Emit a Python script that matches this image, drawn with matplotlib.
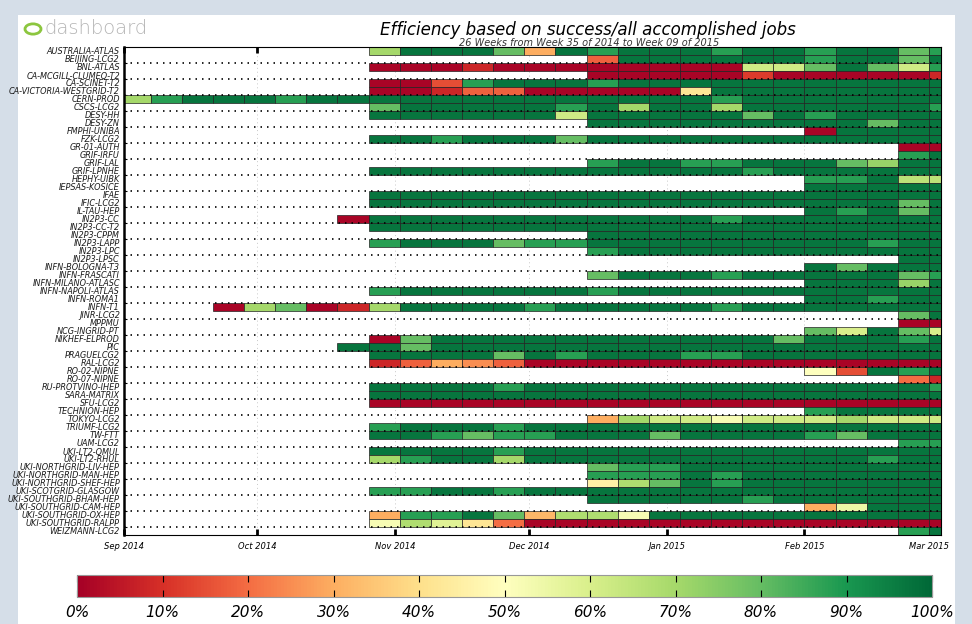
import datetime as dt
import matplotlib
matplotlib.use('Agg')
import matplotlib.pyplot as plt
import matplotlib.dates as mdates
from matplotlib.patches import Rectangle, Circle
from matplotlib import cm, colors

# sites, first week index with data, weekly efficiency (%) from that week on
sites = ['AUSTRALIA-ATLAS', 'BEIJING-LCG2', 'BNL-ATLAS', 'CA-MCGILL-CLUMEQ-T2', 'CA-SCINET-T2',
         'CA-VICTORIA-WESTGRID-T2', 'CERN-PROD', 'CSCS-LCG2', 'DESY-HH', 'DESY-ZN',
         'FMPHI-UNIBA', 'FZK-LCG2', 'GR-01-AUTH', 'GRIF-IRFU', 'GRIF-LAL', 'GRIF-LPNHE',
         'HEPHY-UIBK', 'IEPSAS-KOSICE', 'IFAE', 'IFIC-LCG2', 'IL-TAU-HEP', 'IN2P3-CC',
         'IN2P3-CC-T2', 'IN2P3-CPPM', 'IN2P3-LAPP', 'IN2P3-LPC', 'IN2P3-LPSC',
         'INFN-BOLOGNA-T3', 'INFN-FRASCATI', 'INFN-MILANO-ATLASC', 'INFN-NAPOLI-ATLAS',
         'INFN-ROMA1', 'INFN-T1', 'JINR-LCG2', 'MPPMU', 'NCG-INGRID-PT', 'NIKHEF-ELPROD',
         'PIC', 'PRAGUELCG2', 'RAL-LCG2', 'RO-02-NIPNE', 'RO-07-NIPNE', 'RU-PROTVINO-IHEP',
         'SARA-MATRIX', 'SFU-LCG2', 'TECHNION-HEP', 'TOKYO-LCG2', 'TRIUMF-LCG2', 'TW-FTT',
         'UAM-LCG2', 'UKI-LT2-QMUL', 'UKI-LT2-RHUL', 'UKI-NORTHGRID-LIV-HEP',
         'UKI-NORTHGRID-MAN-HEP', 'UKI-NORTHGRID-SHEF-HEP', 'UKI-SCOTGRID-GLASGOW',
         'UKI-SOUTHGRID-BHAM-HEP', 'UKI-SOUTHGRID-CAM-HEP', 'UKI-SOUTHGRID-OX-HEP',
         'UKI-SOUTHGRID-RALPP', 'WEIZMANN-LCG2']

start_week = [8, 15, 8, 15, 8, 8, 0, 8, 8, 15,
              22, 8, 25, 25, 15, 8, 22, 22, 8, 8,
              22, 7, 8, 15, 8, 15, 25, 22, 15, 22,
              8, 22, 3, 25, 25, 22, 8, 7, 8, 8,
              22, 25, 8, 8, 8, 22, 15, 8, 8, 25,
              8, 8, 15, 15, 15, 8, 15, 22, 8, 8, 25]

efficiency = [
    [70, 97, 97, 97, 80, 30, 97, 88, 97, 97, 97, 88, 97, 97, 88, 97, 97, 80, 88],
    [18, 97, 97, 97, 97, 97, 97, 88, 97, 97, 80, 97],
    [1, 1, 1, 8, 1, 1, 1, 1, 1, 1, 1, 1, 62, 62, 80, 97, 80, 62, 88],
    [1, 1, 1, 1, 1, 12, 1, 1, 1, 1, 1, 8],
    [1, 1, 15, 88, 97, 97, 97, 88, 97, 97, 97, 97, 97, 97, 97, 97, 97, 97, 97],
    [1, 1, 8, 18, 18, 1, 1, 1, 1, 1, 42, 97, 97, 97, 97, 97, 97, 97, 97],
    [70, 88, 97, 97, 97, 88, 97, 97, 97, 97, 97, 97, 97, 97, 97, 97, 97, 97, 97, 88, 97, 97, 97, 97, 97, 97, 97],
    [80, 97, 97, 97, 97, 97, 88, 97, 70, 97, 97, 70, 97, 97, 97, 97, 97, 97, 88],
    [97, 97, 97, 97, 97, 97, 62, 97, 97, 97, 97, 97, 80, 97, 88, 97, 97, 97, 97],
    [97, 97, 97, 97, 97, 97, 97, 97, 97, 80, 97, 97],
    [1, 97, 97, 97, 97],
    [97, 97, 88, 97, 97, 97, 80, 97, 97, 97, 97, 97, 97, 97, 97, 97, 97, 97, 97],
    [1, 1],
    [88, 97],
    [88, 97, 97, 88, 88, 97, 97, 97, 80, 72, 97, 97],
    [97, 97, 97, 97, 97, 97, 97, 97, 97, 97, 97, 97, 88, 97, 97, 97, 97, 97, 97],
    [88, 88, 97, 66, 66],
    [97, 97, 97, 97, 97],
    [97, 97, 97, 97, 97, 97, 97, 97, 97, 97, 97, 97, 97, 97, 97, 97, 97, 97, 97],
    [97, 97, 97, 97, 97, 97, 97, 97, 97, 97, 97, 97, 97, 97, 97, 97, 97, 80, 97],
    [97, 88, 97, 80, 97],
    [1, 97, 97, 97, 97, 97, 97, 97, 97, 97, 97, 97, 88, 97, 97, 97, 97, 97, 97, 97],
    [97, 97, 97, 97, 97, 97, 97, 97, 97, 97, 97, 97, 97, 97, 97, 97, 97, 97, 97],
    [97, 97, 97, 97, 97, 97, 97, 97, 97, 97, 97, 97],
    [88, 97, 97, 97, 80, 88, 88, 97, 97, 97, 97, 97, 97, 97, 97, 97, 88, 97, 97],
    [88, 97, 97, 97, 97, 97, 97, 97, 97, 97, 97, 97],
    [97, 97],
    [97, 80, 97, 97, 97],
    [80, 97, 97, 97, 88, 97, 97, 97, 97, 97, 80, 88],
    [97, 97, 97, 72, 97],
    [88, 97, 97, 97, 97, 97, 97, 88, 97, 97, 97, 97, 97, 97, 97, 97, 97, 97, 97],
    [97, 97, 88, 97, 97],
    [1, 70, 80, 1, 8, 70, 97, 97, 97, 97, 88, 97, 97, 97, 97, 97, 88, 97, 97, 97, 97, 97, 97, 97],
    [80, 97],
    [1, 1],
    [80, 60, 97, 80, 60],
    [1, 80, 97, 97, 97, 97, 97, 97, 97, 97, 97, 97, 97, 80, 97, 97, 97, 88, 97],
    [97, 97, 80, 97, 97, 97, 97, 97, 97, 97, 97, 97, 97, 97, 97, 97, 97, 97, 97, 97],
    [97, 97, 97, 97, 80, 97, 88, 97, 97, 97, 88, 88, 97, 97, 97, 97, 97, 97, 97],
    [8, 18, 30, 25, 18, 1, 1, 1, 1, 1, 1, 1, 1, 1, 1, 1, 1, 1, 1],
    [50, 15, 97, 88, 97],
    [20, 8],
    [97, 97, 97, 97, 88, 97, 97, 97, 97, 97, 97, 97, 97, 97, 97, 97, 97, 97, 88],
    [97, 97, 97, 97, 97, 97, 97, 97, 97, 97, 97, 97, 97, 97, 97, 97, 97, 97, 97],
    [1, 1, 1, 1, 1, 1, 1, 1, 1, 1, 1, 1, 1, 1, 1, 1, 1, 1, 1],
    [88, 97, 97, 97, 97],
    [30, 70, 62, 62, 52, 62, 62, 62, 70, 62, 62, 62],
    [88, 97, 97, 97, 88, 97, 97, 97, 97, 97, 97, 97, 97, 97, 97, 97, 97, 97, 97],
    [97, 97, 88, 80, 88, 88, 97, 97, 97, 80, 97, 97, 97, 97, 88, 80, 97, 97, 97],
    [88, 88],
    [97, 97, 97, 97, 88, 97, 97, 97, 97, 97, 97, 97, 97, 97, 97, 97, 97, 97, 97],
    [70, 88, 97, 97, 70, 97, 97, 97, 97, 97, 97, 97, 97, 97, 97, 97, 88, 97, 97],
    [80, 88, 88, 97, 97, 97, 97, 97, 97, 97, 97, 97],
    [88, 88, 88, 97, 88, 97, 97, 97, 97, 97, 97, 97],
    [45, 68, 80, 97, 88, 97, 97, 97, 97, 97, 97, 97],
    [88, 88, 97, 97, 88, 97, 97, 97, 97, 97, 97, 97, 97, 97, 97, 97, 97, 97, 97],
    [97, 97, 97, 97, 97, 88, 97, 97, 97, 97, 97, 97],
    [30, 55, 97, 97, 97],
    [30, 88, 88, 97, 80, 32, 68, 68, 52, 97, 97, 97, 97, 97, 97, 97, 97, 97, 97],
    [52, 68, 58, 42, 20, 1, 1, 1, 1, 1, 1, 1, 1, 1, 1, 1, 1, 1, 1],
    [88, 97],
]

first_week = dt.datetime(2014, 8, 31)
cbar_ticks = [0, 10, 20, 30, 40, 50, 60, 70, 80, 90, 100]

label_font = ['Liberation Sans Narrow', 'DejaVu Sans']

fig = plt.figure(figsize=(9.72, 6.24), dpi=100, facecolor='#d5dee8')
fig.patches.append(Rectangle((18 / 972, 0), 937 / 972, 609 / 624, transform=fig.transFigure,
                             facecolor='white', edgecolor='none', zorder=-5))

ax = fig.add_axes([124 / 972, 1 - 535 / 624, 817 / 972, 488 / 624])
ax.patch.set_alpha(0)
cmap = plt.get_cmap('RdYlGn')
norm = colors.Normalize(0, 100)

for i, (s, vals) in enumerate(zip(start_week, efficiency)):
    lefts = [mdates.date2num(first_week + dt.timedelta(weeks=s + j)) for j in range(len(vals))]
    ax.barh([i + 0.5] * len(vals), [7] * len(vals), left=lefts, height=1,
            color=[cmap(norm(v)) for v in vals], edgecolor='#222222', linewidth=0.5, zorder=2)

ax.set_ylim(len(sites), 0)
ax.set_xlim(mdates.date2num(dt.datetime(2014, 9, 1)), mdates.date2num(dt.datetime(2015, 3, 3, 17)))

ax.set_yticks([i + 0.5 for i in range(len(sites))])
ax.set_yticklabels(sites, family=label_font, style='italic', fontsize=5.9, color='#1a1a1a')
ax.tick_params(axis='y', length=0, pad=3)
ax.set_yticks(range(2, len(sites), 2), minor=True)
ax.tick_params(axis='y', which='minor', direction='in', length=2, width=0.8)
for yb in range(2, len(sites), 2):
    ax.axhline(yb, color='black', linestyle=(0, (0.9, 3.0)), linewidth=1.2, zorder=3)

ax.xaxis.set_major_locator(mdates.MonthLocator())
ax.xaxis.set_major_formatter(mdates.DateFormatter('%b %Y'))
ax.tick_params(axis='x', direction='in', length=4, width=2, top=True, labelsize=6, pad=5)
for lab in ax.get_xticklabels():
    lab.set_family(label_font)
    lab.set_style('italic')
ax.grid(axis='x', color='#c8c8c8', linestyle=(0, (1, 3)), linewidth=0.7, zorder=1)

for side in ['top', 'right', 'bottom']:
    ax.spines[side].set_linewidth(0.8)
ax.spines['left'].set_linewidth(1.8)

fig.text(588 / 972, 1 - 30 / 624, 'Efficiency based on success/all accomplished jobs',
         ha='center', va='center', fontsize=12, style='italic')
fig.text(589 / 972, 1 - 43 / 624, '26 Weeks from Week 35 of 2014 to Week 09 of 2015',
         ha='center', va='center', fontsize=7, style='italic', color='#333333')

# dashboard logo
fig.patches.append(Circle((33 / 972, 1 - 29 / 624), 8 / 972, transform=fig.transFigure,
                          facecolor='none', edgecolor='#8cc63f', linewidth=2))
fig.text(44 / 972, 1 - 29 / 624, 'dashboard', ha='left', va='center', fontsize=14,
         color='#b5b5b5', fontweight='light')

cax = fig.add_axes([77 / 972, 1 - 597 / 624, 855 / 972, 22 / 624])
cb = fig.colorbar(cm.ScalarMappable(norm=norm, cmap=cmap), cax=cax, orientation='horizontal',
                  ticks=cbar_ticks)
cb.set_ticklabels(['%d%%' % t for t in cbar_ticks])
cb.outline.set_edgecolor('#999999')
cax.xaxis.set_ticks_position('both')
cax.tick_params(direction='in', length=5, width=0.8, labelsize=11, pad=6)
for lab in cax.get_xticklabels():
    lab.set_style('italic')

fig.savefig('out.png', dpi=100, facecolor=fig.get_facecolor())
